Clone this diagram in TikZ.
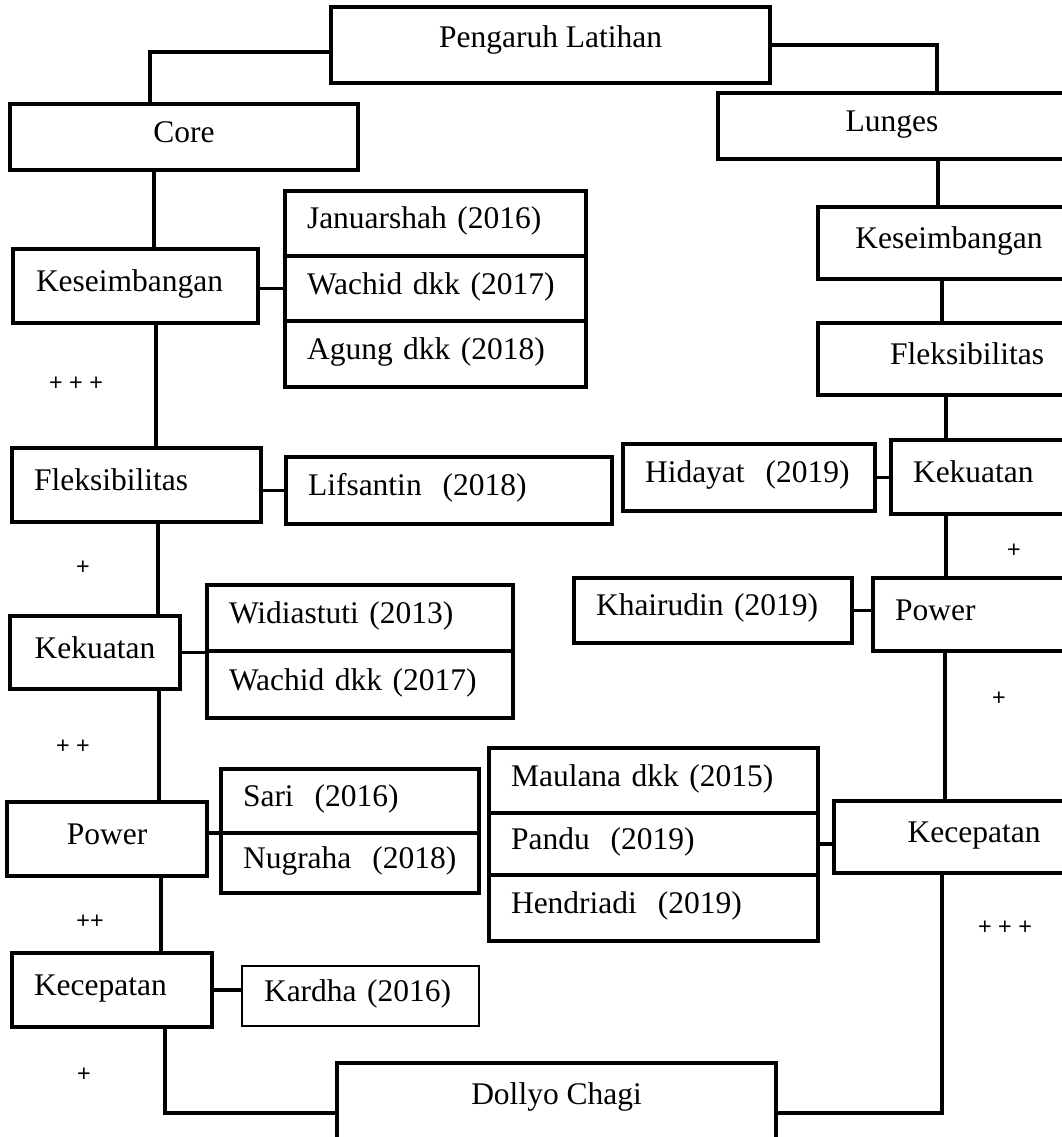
\documentclass[tikz,border=0pt]{standalone}
\usepackage{fontspec}
\setmainfont{Liberation Serif}
\newfontfamily\signfont{Liberation Sans}
\usetikzlibrary{positioning}

\begin{document}
\begin{tikzpicture}[
            x=0.025cm, y=-0.025cm,
            box/.style={rectangle, draw, line width=0.085cm, outer sep=0pt, inner sep=0pt, anchor=north west, text height=14.5pt, text depth=6.7pt, font=\fontsize{22.4}{27}\selectfont},
            cite/.style={box, align=left, inner xsep=0.55cm},
            link/.style={line width=0.08cm},
            sign/.style={inner sep=0pt, font=\signfont\fontsize{16.6}{20}\selectfont}
            ]
            \path[use as bounding box, fill=white] (0,0) rectangle (1061,1137);

            % Top
            \node[box, minimum width=10.975cm, minimum height=1.9cm, text depth=11.2pt] (peng) at (331,7) {Pengaruh Latihan};

            % Core branch
            \node[box, minimum width=8.7cm, minimum height=1.65cm] (core) at (10,104) {Core};
            \node[cite, text width=4.975cm, inner xsep=0.575cm, minimum height=1.85cm] (kesL) at (13,249) {Keseimbangan};
            \node[cite, text width=5.125cm, minimum height=1.85cm] (flekL) at (12,448) {Fleksibilitas};
            \node[box, minimum width=4.25cm, minimum height=1.825cm] (kekL) at (10,616) {Kekuatan};
            \node[box, minimum width=5cm, minimum height=1.85cm] (powL) at (7,802) {Power};
            \node[cite, text width=3.9cm, minimum height=1.85cm] (kecL) at (12,953) {Kecepatan};

            % Sources, core branch
            \node[cite, text width=6.425cm, minimum height=1.625cm] (jan) at (285,191) {Januarshah (2016)};
            \node[cite, text width=6.425cm, minimum height=1.625cm, below=0pt of jan] (wac1) {Wachid dkk (2017)};
            \node[cite, text width=6.425cm, minimum height=1.65cm, below=0pt of wac1] (agu) {Agung dkk (2018)};
            \node[cite, text width=7.05cm, minimum height=1.675cm] (lif) at (286,457) {Lifsantin~ (2018)};
            \node[cite, text width=6.55cm, minimum height=1.65cm] (wid) at (207,585) {Widiastuti (2013)};
            \node[cite, text width=6.55cm, minimum height=1.675cm, below=0pt of wid] (wac2) {Wachid dkk (2017)};
            \node[cite, text width=5.35cm, minimum height=1.6cm] (sari) at (221,769) {Sari~ (2016)};
            \node[cite, text width=5.35cm, minimum height=1.5cm, below=0pt of sari] (nug) {Nugraha~ (2018)};
            \node[cite, text width=4.825cm, minimum height=1.5cm, line width=0.05cm] (kar) at (242,966) {Kardha (2016)};

            % Lunges branch
            \node[box, minimum width=8.7cm, minimum height=1.65cm] (lunges) at (718,93) {Lunges};
            \node[box, minimum width=6.55cm, minimum height=1.8cm] (kesR) at (818,207) {Keseimbangan};
            \node[box, minimum width=7.45cm, minimum height=1.8cm] (flekR) at (818,323) {Fleksibilitas};
            \node[cite, text width=5.15cm, minimum height=1.85cm] (kekR) at (891,440) {Kekuatan};
            \node[cite, text width=5.15cm, minimum height=1.825cm] (powR) at (873,578) {Power};
            \node[box, minimum width=7cm, minimum height=1.8cm] (kecR) at (834,801) {Kecepatan};

            % Sources, lunges branch
            \node[cite, text width=5.2cm, minimum height=1.675cm] (hid) at (623,444) {Hidayat~ (2019)};
            \node[cite, text width=5.85cm, minimum height=1.625cm] (khai) at (574,578) {Khairudin (2019)};
            \node[cite, text width=7.125cm, minimum height=1.625cm] (mau) at (489,748) {Maulana dkk (2015)};
            \node[cite, text width=7.125cm, minimum height=1.55cm, below=0pt of mau] (pan) {Pandu~ (2019)};
            \node[cite, text width=7.125cm, minimum height=1.65cm, below=0pt of pan] (hen) {Hendriadi~ (2019)};

            % Bottom
            \node[box, minimum width=10.975cm, minimum height=2.5cm, text depth=26.9pt] (dollyo) at (337,1063) {Dollyo Chagi};

            % Top links
            \draw[link] (peng.west |- 0,52) -| (core.north -| 150,0);
            \draw[link] (peng.east) -| (lunges.north -| 937,0);

            % Core chain
            \draw[link] (core.south -| 154,0) -- (kesL.north -| 154,0);
            \draw[link] (kesL.south -| 156,0) -- (flekL.north -| 156,0);
            \draw[link] (flekL.south -| 158,0) -- (kekL.north -| 158,0);
            \draw[link] (kekL.south -| 159,0) -- (powL.north -| 159,0);
            \draw[link] (powL.south -| 161,0) -- (kecL.north -| 161,0);
            \draw[link] (kecL.south -| 165,0) |- (dollyo.west);

            % Core sources
            \draw[link] (kesL.east |- wac1) -- (wac1.west);
            \draw[link] (flekL.east |- lif) -- (lif.west);
            \draw[link] (kekL.east) -- (kekL.east -| wid.west);
            \draw[link] (powL.east |- sari.south) -- (sari.south west);
            \draw[link] (kecL.east) -- (kecL.east -| kar.west);

            % Lunges chain
            \draw[link] (lunges.south -| 938,0) -- (kesR.north -| 938,0);
            \draw[link] (kesR.south -| 942,0) -- (flekR.north -| 942,0);
            \draw[link] (flekR.south -| 946,0) -- (kekR.north -| 946,0);
            \draw[link] (kekR.south -| 946,0) -- (powR.north -| 946,0);
            \draw[link] (powR.south -| 945,0) -- (kecR.north -| 945,0);
            \draw[link] (kecR.south -| 942,0) |- (dollyo.east);

            % Lunges sources
            \draw[link] (hid.east) -- (hid.east -| kekR.west);
            \draw[link] (khai.east) -- (khai.east -| powR.west);
            \draw[link] (pan.east) -- (pan.east -| kecR.west);

            % Signs
            \node[sign] (s1) at (76,384) {+ + +};
            \node[sign] (s2) at (83,568) {+};
            \node[sign] (s3) at (73,747) {+ +};
            \node[sign] (s4) at (90,922) {++};
            \node[sign] (s5) at (84,1075) {+};
            \node[sign] (s6) at (1014,551) {+};
            \node[sign] (s7) at (999,699) {+};
            \node[sign] (s8) at (1005,928) {+ + +};

        \end{tikzpicture}
\end{document}
